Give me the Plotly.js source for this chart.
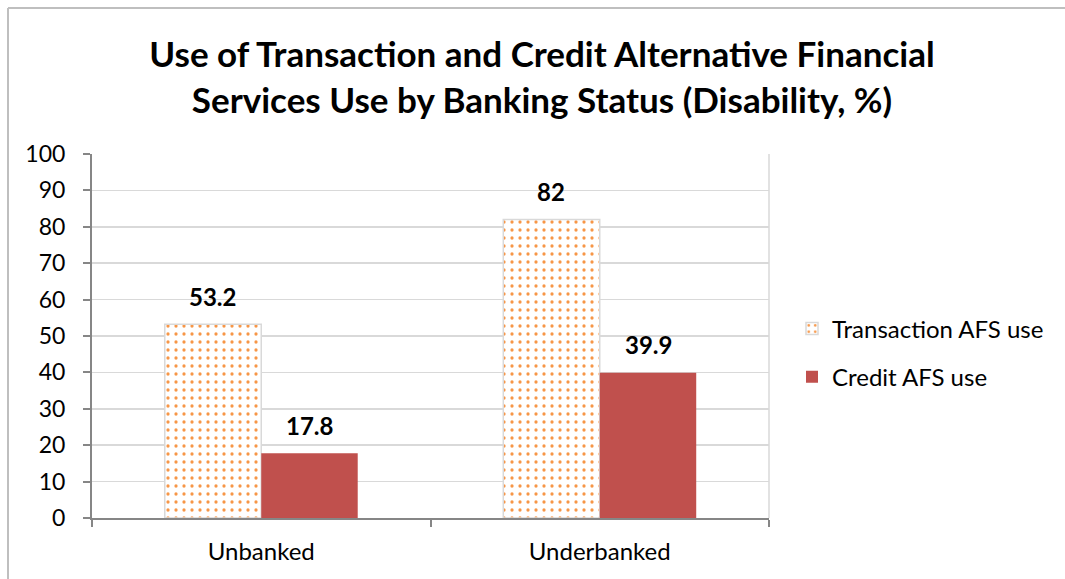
<!DOCTYPE html>
<html>
<head>
<meta charset="utf-8">
<script src="https://cdn.plot.ly/plotly-3.0.1.min.js"></script>
<style>
html,body{margin:0;padding:0;background:#fff;}
#chart{width:1065px;height:579px;}
</style>
</head>
<body>
<div id="chart"></div>
<script>
const categories = ["Unbanked", "Underbanked"];
const seriesNames = ["Transaction AFS use", "Credit AFS use"];
const transactionValues = [53.2, 82];
const creditValues = [17.8, 39.9];
const yTickValues = [0, 10, 20, 30, 40, 50, 60, 70, 80, 90, 100];

const FONT = "Lato, 'Open Sans', sans-serif";

const traceTransaction = {
  type: "bar",
  name: seriesNames[0],
  x: categories,
  y: transactionValues,
  legendgroup: "a",
  marker: {
    color: "#ffffff",
    line: {color: "#d9d9d9", width: 1.5},
    pattern: {shape: ".", fgcolor: "#F79646", bgcolor: "#ffffff", size: 8, solidity: 0.13, fillmode: "replace"}
  },
  hoverinfo: "none"
};
const traceCredit = {
  type: "bar",
  name: seriesNames[1],
  x: categories,
  y: creditValues,
  legendgroup: "b",
  marker: {color: "#C0504D", line: {color: "#C0504D", width: 0}},
  hoverinfo: "none"
};

const offsets = [-48.3, 48.3];
const annotations = [];
[transactionValues, creditValues].forEach((vals, si) => {
  vals.forEach((v, i) => {
    annotations.push({
      x: categories[i], y: v, xref: "x", yref: "y",
      text: "<b>" + String(v) + "</b>",
      showarrow: false, xshift: offsets[si], yshift: 28,
      font: {family: FONT, size: 24, color: "#000"}
    });
  });
});

const L = 92, R = 769, T = 154, B = 518;
const pw = R - L, ph = B - T;
const px = v => (v - L) / pw;
const py = v => (B - v) / ph;

const layout = {
  width: 1065, height: 579,
  margin: {l: L, r: 1065 - R, t: T, b: 579 - B, pad: 0},
  paper_bgcolor: "#ffffff",
  plot_bgcolor: "#ffffff",
  font: {family: FONT, color: "#000"},
  title: {
    text: "<b>Use of Transaction and Credit Alternative Financial<br>Services Use by Banking Status (Disability, %)</b>",
    font: {family: FONT, size: 35, color: "#000"},
    x: 542 / 1065, xref: "container", xanchor: "center",
    y: 1 - 67 / 579, yref: "container", yanchor: "middle"
  },
  barmode: "group",
  bargap: 0.43,
  bargroupgap: 0,
  showlegend: true,
  legend: {
    x: px(792), y: py(353), xanchor: "left", yanchor: "middle",
    xref: "paper", yref: "paper",
    font: {family: FONT, size: 24, color: "#000"},
    traceorder: "grouped", tracegroupgap: 14,
    bgcolor: "rgba(0,0,0,0)"
  },
  xaxis: {
    type: "category",
    showline: true, linecolor: "#868686", linewidth: 2,
    ticks: "outside", tickson: "boundaries", ticklen: 7, tickwidth: 2, tickcolor: "#868686",
    showgrid: false,
    tickfont: {family: FONT, size: 24, color: "#000"},
    ticklabelstandoff: 11,
    zeroline: false, fixedrange: true
  },
  yaxis: {
    range: [0, 100],
    tickmode: "array", tickvals: yTickValues, ticktext: yTickValues.map(String),
    showline: true, linecolor: "#868686", linewidth: 2,
    ticks: "outside", ticklen: 7, tickwidth: 2, tickcolor: "#868686",
    showgrid: true, gridcolor: "#d9d9d9", gridwidth: 1.5,
    tickfont: {family: FONT, size: 23, color: "#000"},
    ticklabelstandoff: 13,
    zeroline: false, fixedrange: true
  },
  annotations: annotations,
  shapes: [
    {type: "line", xref: "paper", yref: "paper", x0: 1, x1: 1, y0: 0, y1: 1, line: {color: "#d9d9d9", width: 1.5}, layer: "below"},
    {type: "line", xref: "paper", yref: "paper", x0: px(8), x1: px(8), y0: py(8), y1: py(620), line: {color: "#bfbfbf", width: 2}},
    {type: "line", xref: "paper", yref: "paper", x0: px(8), x1: px(1100), y0: py(8), y1: py(8), line: {color: "#bfbfbf", width: 2}}
  ]
};

Plotly.newPlot("chart", [traceTransaction, traceCredit], layout, {staticPlot: true, displayModeBar: false});
</script>
</body>
</html>
